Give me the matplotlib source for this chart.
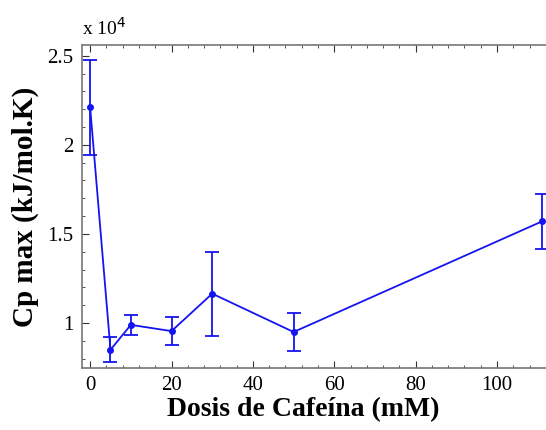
import matplotlib.pyplot as plt
from matplotlib.ticker import MultipleLocator, FuncFormatter

plt.rcParams['font.family'] = ['Liberation Serif', 'DejaVu Serif']

# caffeine dose (mM) vs. Cp max (kJ/mol.K)
dose = [0, 5, 10, 20, 30, 50, 111]
cp_max = [22100, 8500, 9900, 9550, 11650, 9500, 15700]
cp_err = [2650, 700, 550, 800, 2350, 1050, 1550]

fig = plt.figure(figsize=(5.46, 4.30), dpi=100)
ax = fig.add_axes([0.1502, 0.1442, 0.857, 0.7511])

ax.errorbar(dose, cp_max, yerr=cp_err, color='#1414f0', lw=1.3,
            marker='o', ms=4, capsize=5, capthick=1.3, elinewidth=1.3)

ax.set_xlim(-2, 113)
ax.set_ylim(7480, 25600)

ax.xaxis.set_major_locator(MultipleLocator(20))
ax.xaxis.set_minor_locator(MultipleLocator(4))
ax.yaxis.set_major_locator(MultipleLocator(5000))
ax.yaxis.set_minor_locator(MultipleLocator(1000))
ax.yaxis.set_major_formatter(FuncFormatter(lambda v, p: '%g' % (v / 1e4)))

ax.tick_params(which='both', direction='in', top=True, right=False,
               color='#333333', labelsize=15)
ax.tick_params(which='major', length=5, pad=6)
ax.tick_params(which='minor', length=2.5)
for side in ['left', 'bottom', 'top']:
    ax.spines[side].set_color('#777777')
    ax.spines[side].set_linewidth(1.2)
ax.spines['right'].set_visible(False)

ax.set_xlabel('Dosis de Cafeína (mM)', fontsize=20, fontweight='bold')
ax.xaxis.set_label_coords(0.472, -0.09)
ax.set_ylabel('Cp max (kJ/mol.K)', fontsize=21, fontweight='bold', labelpad=6)
ax.text(0.0, 1.02, r'x 10$^4$', transform=ax.transAxes, fontsize=14,
        ha='left', va='bottom')

fig.savefig('out.png', dpi=100)
